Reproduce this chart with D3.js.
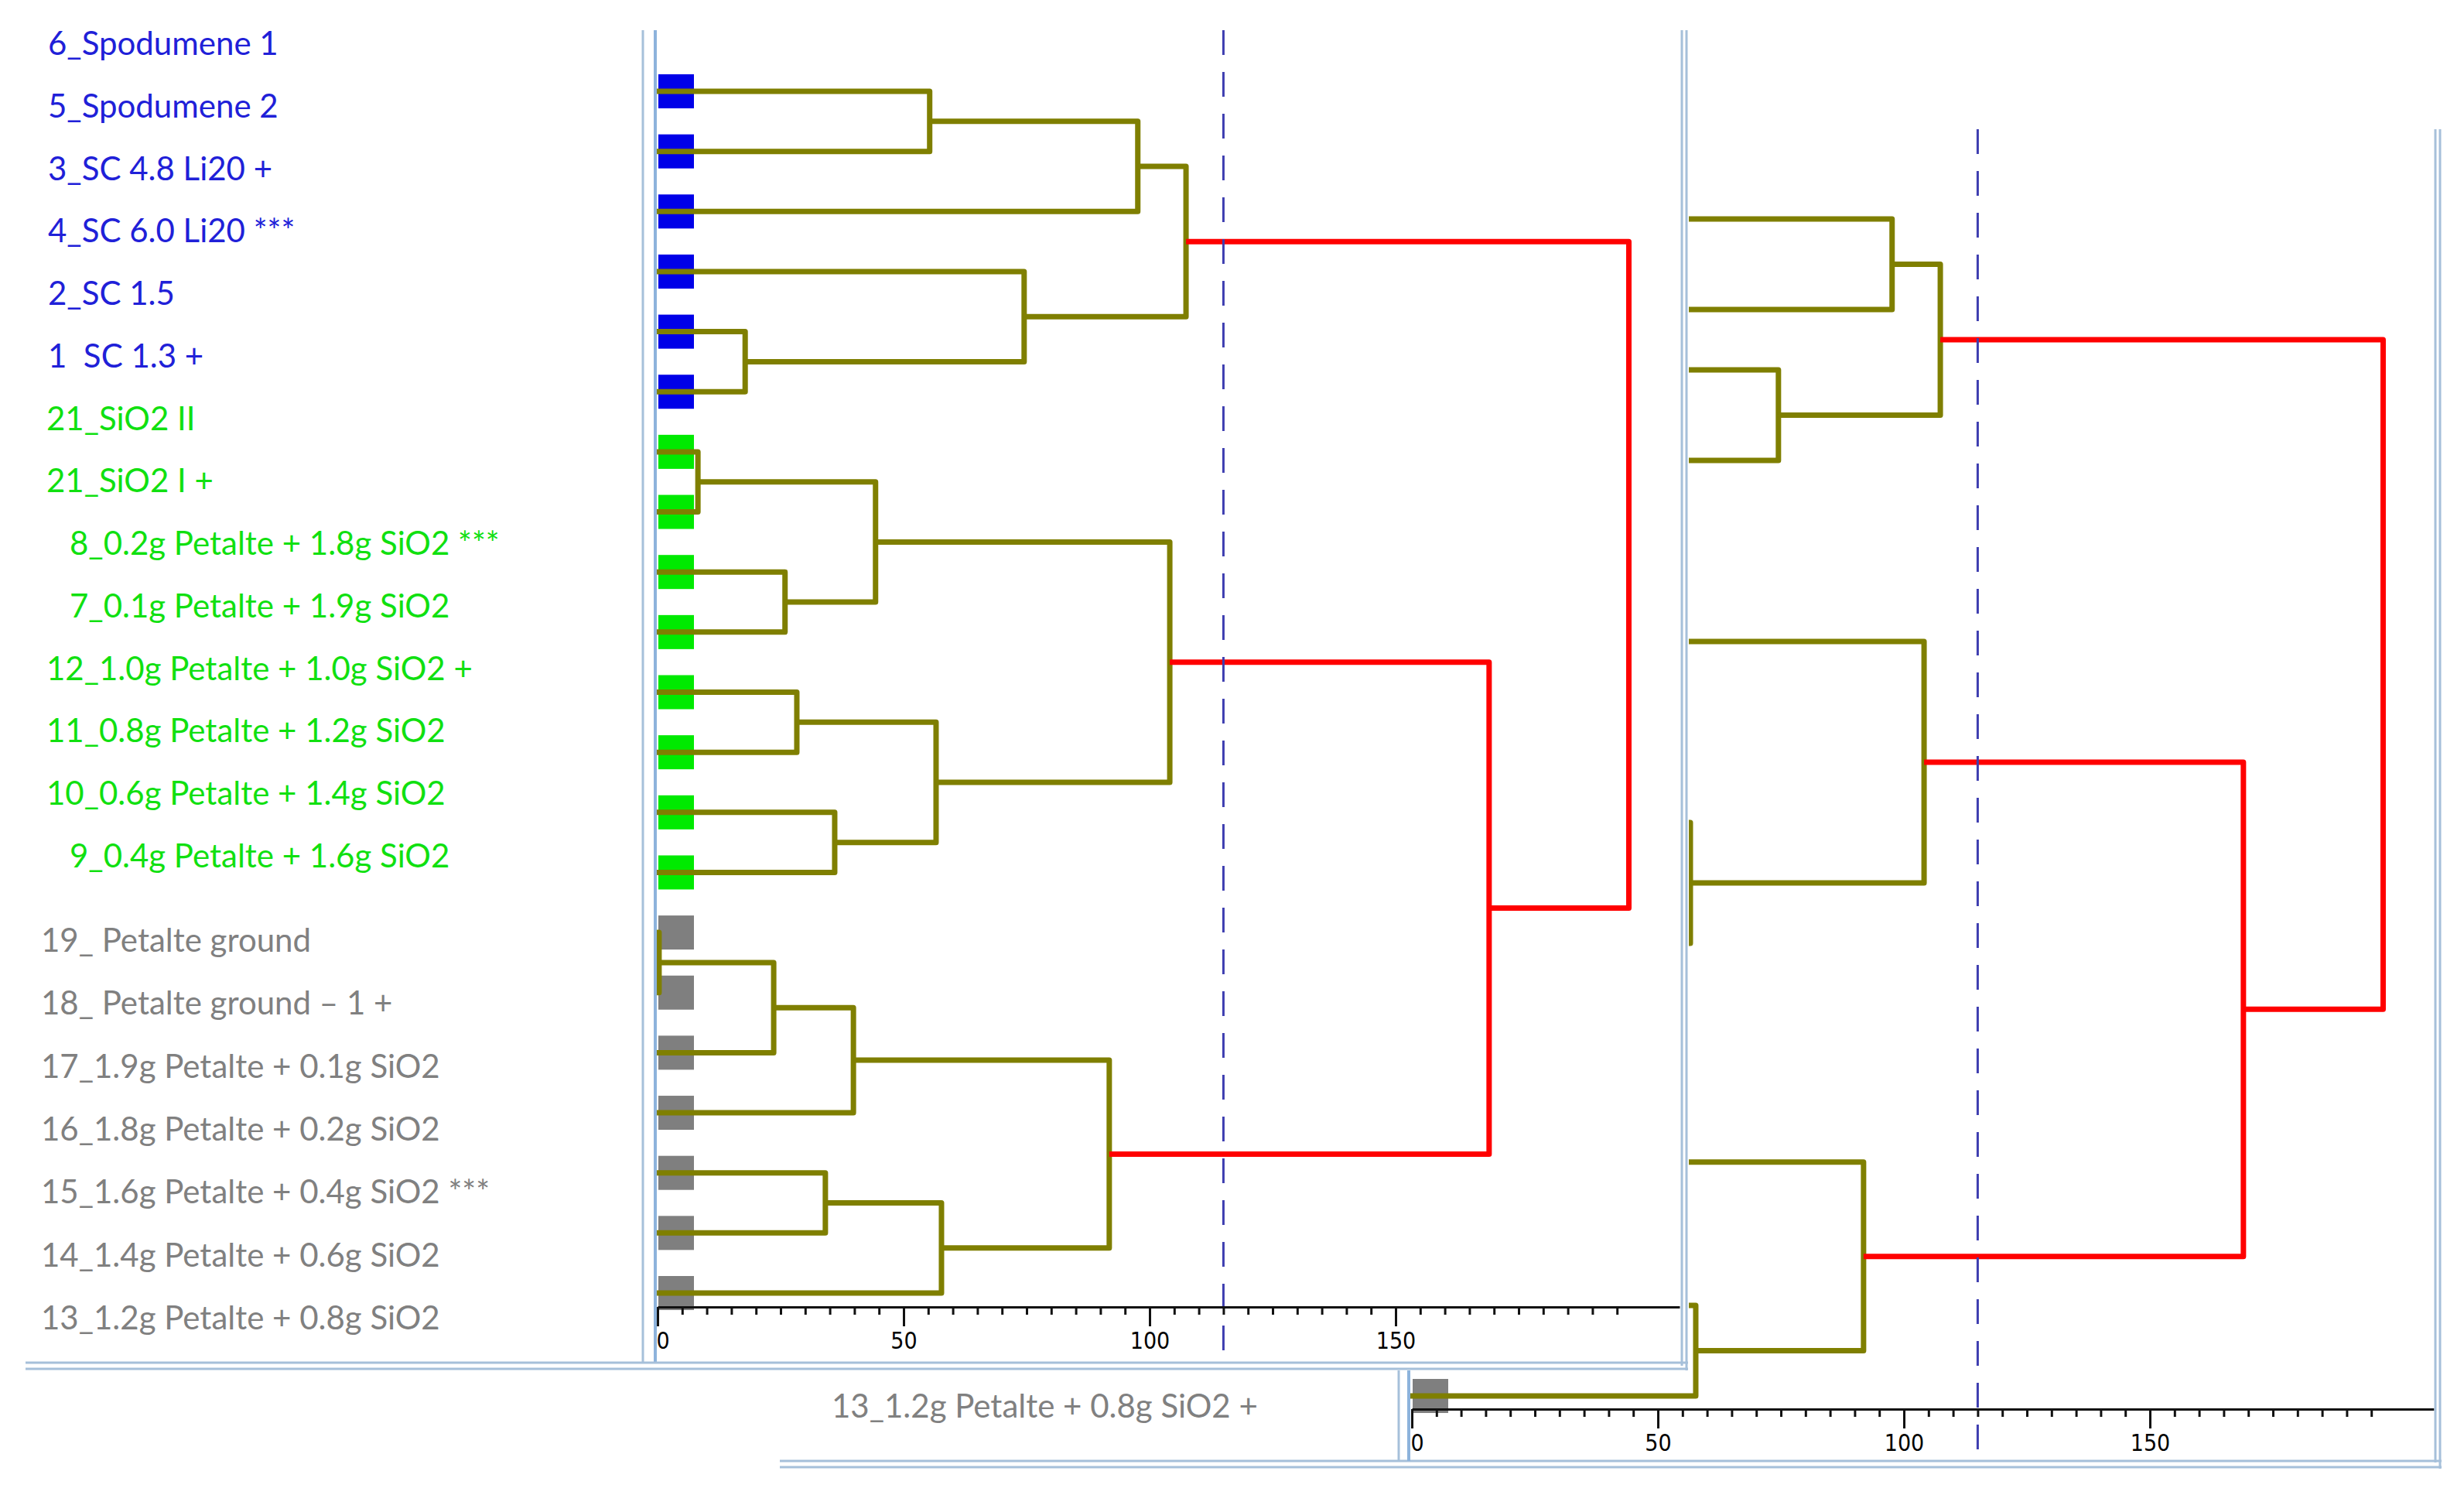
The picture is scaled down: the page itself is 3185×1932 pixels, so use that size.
<!DOCTYPE html>
<html>
<head>
<meta charset="utf-8">
<script src="https://cdn.jsdelivr.net/npm/d3@7"></script>
<style>
  body { margin: 0; background: #fff; }
  svg { display: block; }
  text { white-space: pre; }
</style>
</head>
<body>
<div id="wrapper"></div>
<script>
// 1. Data

// leaf labels, top to bottom
const leafLabels = [
  "6_Spodumene 1", "5_Spodumene 2", "3_SC 4.8 Li20 +", "4_SC 6.0 Li20 ***", "2_SC 1.5", "1  SC 1.3 +",
  "21_SiO2 II", "21_SiO2 I +", "8_0.2g Petalte + 1.8g SiO2 ***", "7_0.1g Petalte + 1.9g SiO2",
  "12_1.0g Petalte + 1.0g SiO2 +", "11_0.8g Petalte + 1.2g SiO2", "10_0.6g Petalte + 1.4g SiO2",
  "9_0.4g Petalte + 1.6g SiO2",
  "19_ Petalte ground", "18_ Petalte ground \u2013 1 +", "17_1.9g Petalte + 0.1g SiO2",
  "16_1.8g Petalte + 0.2g SiO2", "15_1.6g Petalte + 0.4g SiO2 ***", "14_1.4g Petalte + 0.6g SiO2",
  "13_1.2g Petalte + 0.8g SiO2"
]
const leafGroups = [
  "spodumene", "spodumene", "spodumene", "spodumene", "spodumene", "spodumene",
  "silica", "silica", "silica", "silica", "silica", "silica", "silica", "silica",
  "petalite", "petalite", "petalite", "petalite", "petalite", "petalite", "petalite"
]
// merges: [child a, child b, linkage distance]; ids 0-20 are leaves, 21+ follow this order
const merges = [
  [0, 1, 55.3],    // 21
  [21, 2, 97.6],   // 22
  [4, 5, 17.8],    // 23
  [3, 23, 74.5],   // 24
  [22, 24, 107.4], // 25
  [6, 7, 8.2],     // 26
  [8, 9, 25.9],    // 27
  [26, 27, 44.3],  // 28
  [10, 11, 28.3],  // 29
  [12, 13, 36.0],  // 30
  [29, 30, 56.6],  // 31
  [28, 31, 104.1], // 32
  [14, 15, 0.3],   // 33
  [33, 16, 23.6],  // 34
  [34, 17, 39.8],  // 35
  [18, 19, 34.1],  // 36
  [36, 20, 57.7],  // 37
  [35, 37, 91.8],  // 38
  [32, 38, 169.0], // 39
  [25, 39, 197.4]  // 40
]
const cutoff = 115
const majorTicks = [0, 50, 100, 150]
const minorStep = 5
const lastTick = 195
const rightPanelLabel = "13_1.2g Petalte + 0.8g SiO2 +"

// 2. Dimensions and styles

const width = 3185
const height = 1932
const pxPerUnit = 6.36
const axisMax = 207.7

const textColor = { spodumene: "#2020d8", silica: "#10e010", petalite: "#808080" }
const boxColor = { spodumene: "#0000e8", silica: "#00ea00", petalite: "#7f7f7f" }
const labelX = { spodumene: 62, silica: 60, petalite: 53 }
const labelFont = "42px"
const olive = "#7f7f00"
const red = "#ff0000"
const frameColor = "#a6c0da"

// 3. Canvas

const svg = d3.select("#wrapper")
  .append("svg")
    .attr("width", width)
    .attr("height", height)

svg.append("rect")
  .attr("width", width)
  .attr("height", height)
  .attr("fill", "#fff")

// 4. Helpers

function layout(yScale) {
  const nodes = leafLabels.map((d, i) => ({ y: yScale(i), h: 0 }))
  merges.forEach(([a, b, h]) => {
    nodes.push({ a, b, h, y: (nodes[a].y + nodes[b].y) / 2 })
  })
  return nodes
}

function drawDendrogram(g, xScale, yScale, axisY, dashTop, dashBottom) {
  const nodes = layout(yScale)
  const xOf = n => n.h === 0 ? xScale(0) - 3 : xScale(n.h)

  // leaf boxes
  g.append("g")
    .selectAll("rect")
    .data(leafGroups)
    .join("rect")
      .attr("x", xScale(0) + 1)
      .attr("y", (d, i) => yScale(i) - 22)
      .attr("width", 46)
      .attr("height", 44)
      .attr("fill", d => boxColor[d])

  const clusters = nodes.slice(leafLabels.length)
    .sort((p, q) => (p.h > cutoff) - (q.h > cutoff))

  g.append("g")
    .selectAll("path")
    .data(clusters)
    .join("path")
      .attr("d", n => {
        const A = nodes[n.a], B = nodes[n.b]
        return `M${xOf(A)},${A.y}H${xScale(n.h)}V${B.y}H${xOf(B)}`
      })
      .attr("fill", "none")
      .attr("stroke", n => n.h > cutoff ? red : olive)
      .attr("stroke-width", 7)
      .attr("stroke-linejoin", "round")

  // cut-off line
  g.append("line")
    .attr("x1", xScale(cutoff))
    .attr("x2", xScale(cutoff))
    .attr("y1", dashTop)
    .attr("y2", dashBottom)
    .attr("stroke", "#3d3db0")
    .attr("stroke-width", 3)
    .attr("stroke-dasharray", "32 22")

  // axis
  const minorValues = d3.range(0, lastTick + 1, minorStep).filter(t => !majorTicks.includes(t))
  const minorAxis = d3.axisBottom(xScale)
    .tickValues(minorValues)
    .tickSize(10)
    .tickFormat("")
    .tickSizeOuter(0)
  const majorAxis = d3.axisBottom(xScale)
    .tickValues(majorTicks)
    .tickSize(25)
    .tickPadding(8)
    .tickSizeOuter(0)

  const minor = g.append("g")
    .attr("transform", `translate(0, ${axisY})`)
    .call(minorAxis)
  minor.select(".domain").remove()
  minor.selectAll("line").attr("stroke", "#111").attr("stroke-width", 3)

  const major = g.append("g")
    .attr("transform", `translate(0, ${axisY})`)
    .call(majorAxis)
  major.select(".domain").attr("stroke", "#111").attr("stroke-width", 3)
  major.selectAll("line").attr("stroke", "#111").attr("stroke-width", 3)
  major.selectAll("text")
    .attr("fill", "#000")
    .style("font-family", "'DejaVu Sans Condensed', 'DejaVu Sans'")
    .style("font-size", "30px")
    .attr("text-anchor", d => d === 0 ? "start" : "middle")
    .attr("x", d => d === 0 ? -2 : 0)
}

function frameLine(x1, y1, x2, y2, w = 3, color = frameColor) {
  svg.append("line")
    .attr("x1", x1).attr("y1", y1)
    .attr("x2", x2).attr("y2", y2)
    .attr("stroke", color)
    .attr("stroke-width", w)
}

// 5. Right window (behind)

const xRight = d3.scaleLinear()
  .domain([0, axisMax])
  .range([1825, 1825 + axisMax * pxPerUnit])
const yRight = d3.scaleLinear()
  .domain([0, leafLabels.length - 1])
  .range([244, 1804])

const rightPanel = svg.append("g")
drawDendrogram(rightPanel, xRight, yRight, 1821, 167, 1888)

rightPanel.append("text")
  .attr("x", 1075)
  .attr("y", yRight(leafLabels.length - 1) + 28)
  .attr("fill", textColor.petalite)
  .style("font-family", "Lato")
  .style("font-size", labelFont)
  .text(rightPanelLabel)

frameLine(3148, 167, 3148, 1890)
frameLine(3154, 167, 3154, 1898)
frameLine(1008, 1888, 3156, 1888)
frameLine(1008, 1896, 3156, 1896)
frameLine(1808, 1771, 1808, 1888)
frameLine(1821, 1771, 1821, 1888, 4, "#8db3dc")

// 6. Left window (on top)

svg.append("rect")
  .attr("x", 33)
  .attr("y", 0)
  .attr("width", 2150)
  .attr("height", 1771)
  .attr("fill", "#fff")

const xLeft = d3.scaleLinear()
  .domain([0, axisMax])
  .range([850, 850 + axisMax * pxPerUnit])
const yLeft = d3.scaleLinear()
  .domain([0, leafLabels.length - 1])
  .range([118, 1671])
const labelY = d3.scaleLinear()
  .domain([0, 13, 14, 20])
  .range([71, 1121, 1230, 1718])

const leftPanel = svg.append("g")
drawDendrogram(leftPanel, xLeft, yLeft, 1689, 39, 1761)

leftPanel.append("g")
  .selectAll("text")
  .data(leafLabels)
  .join("text")
    .attr("x", (d, i) => {
      const g = leafGroups[i]
      return labelX[g] + (g === "silica" && /^\d_/.test(d) ? 30 : 0)
    })
    .attr("y", (d, i) => labelY(i))
    .attr("fill", (d, i) => textColor[leafGroups[i]])
    .style("font-family", "Lato")
    .style("font-size", labelFont)
    .text(d => d)

frameLine(831, 39, 831, 1761)
frameLine(847, 39, 847, 1761, 4, "#8db3dc")
frameLine(2174, 39, 2174, 1765)
frameLine(2180, 39, 2180, 1771)
frameLine(33, 1761, 2182, 1761)
frameLine(33, 1769, 2182, 1769)
</script>
</body>
</html>
